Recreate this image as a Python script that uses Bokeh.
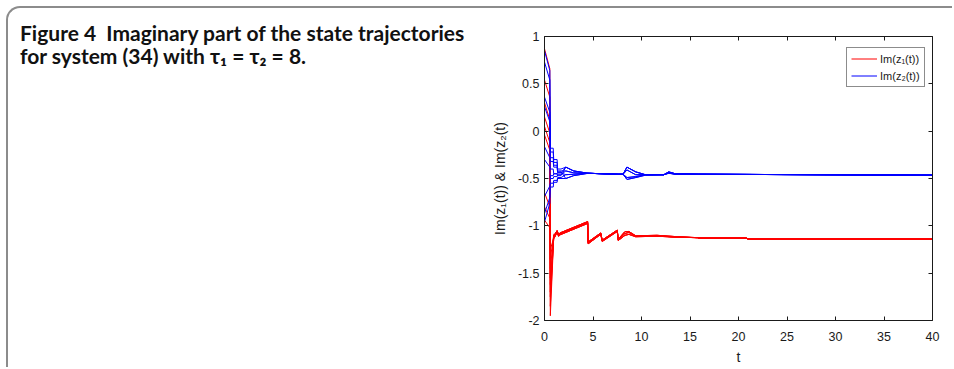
from bokeh.plotting import figure
from bokeh.layouts import row
from bokeh.models import Legend, LegendItem, LinearAxis, FixedTicker, Range1d, Div
from bokeh.embed import file_html
from bokeh.resources import INLINE

# ---------------- data ----------------
x_ticks = [0, 5, 10, 15, 20, 25, 30, 35, 40]
y_ticks = [-2, -1.5, -1, -0.5, 0, 0.5, 1]
y_tick_labels = ["-2", "-1.5", "-1", "-0.5", "0", "0.5", "1"]

# Im(z1): initial part of each trajectory
red_head_t = [0, 0.55, 0.6, 0.95]
red_heads = [
    [0.87, 0.66, -1.95, -1.12],
    [0.54, 0.36, -1.85, -1.10],
    [0.15, -0.02, -1.75, -1.13],
    [0.05, -0.12, -1.62, -1.09],
    [-0.04, -0.20, -1.55, -1.14],
    [-0.65, -0.80, -1.45, -1.11],
    [-0.80, -0.92, -1.35, -1.10],
    [-0.94, -1.02, -1.25, -1.13],
    [0.30, 0.12, -1.70, -1.12],
]
# Im(z1): common later part (three slightly different copies)
red_tail_t = [1.05, 1.3, 1.45, 1.6, 4.45, 4.5, 5.8, 5.95, 7.5, 7.6, 8.3, 8.7,
              9.4, 11.6, 13.7, 15.8, 16.0, 20.8, 21.0, 40]
red_tails = [
    [-1.10, -1.06, -1.10, -1.085, -0.965, -1.18, -1.08, -1.16, -1.05, -1.15, -1.08, -1.07,
     -1.11, -1.105, -1.12, -1.125, -1.13, -1.13, -1.14, -1.14],
    [-1.12, -1.07, -1.11, -1.095, -0.975, -1.19, -1.09, -1.165, -1.06, -1.155, -1.10, -1.09,
     -1.115, -1.11, -1.12, -1.125, -1.13, -1.13, -1.14, -1.14],
    [-1.09, -1.05, -1.09, -1.075, -0.955, -1.17, -1.075, -1.15, -1.045, -1.14, -1.06, -1.06,
     -1.105, -1.10, -1.115, -1.125, -1.13, -1.13, -1.14, -1.14],
]

# Im(z2): initial part of each trajectory
blue_head_t = [0, 0.55, 0.6, 0.9, 0.95, 1.3, 1.35, 1.7]
blue_heads = [
    [0.85, 0.64, -0.18, -0.18, -0.30, -0.30, -0.40, -0.40],
    [0.73, 0.54, -0.22, -0.22, -0.33, -0.33, -0.42, -0.42],
    [0.36, 0.20, -0.28, -0.28, -0.36, -0.36, -0.44, -0.44],
    [0.26, 0.10, -0.32, -0.32, -0.38, -0.38, -0.43, -0.43],
    [-0.165, -0.28, -0.40, -0.40, -0.45, -0.45, -0.47, -0.47],
    [-0.30, -0.38, -0.50, -0.50, -0.48, -0.48, -0.46, -0.46],
    [-0.69, -0.58, -0.55, -0.55, -0.52, -0.52, -0.49, -0.49],
    [-0.87, -0.70, -0.59, -0.59, -0.54, -0.54, -0.50, -0.50],
    [-0.96, -0.76, -0.47, -0.47, -0.45, -0.45, -0.44, -0.44],
]
# Im(z2): later part (four slightly different copies)
blue_tail_t = [2.2, 3.0, 4.5, 7.6, 8.1, 8.5, 9.4, 10.4, 12.3, 12.8, 13.5, 15.9, 40]
blue_tails = [
    [-0.38, -0.42, -0.445, -0.455, -0.455, -0.38, -0.43, -0.46, -0.46, -0.43, -0.45, -0.455, -0.465],
    [-0.42, -0.44, -0.445, -0.455, -0.455, -0.41, -0.46, -0.46, -0.46, -0.44, -0.45, -0.455, -0.465],
    [-0.46, -0.455, -0.445, -0.455, -0.455, -0.49, -0.48, -0.46, -0.46, -0.44, -0.455, -0.455, -0.465],
    [-0.50, -0.47, -0.445, -0.455, -0.455, -0.51, -0.49, -0.465, -0.46, -0.445, -0.455, -0.455, -0.465],
]

caption_lines = ["Figure 4&nbsp; Imaginary part of the state trajectories",
                 "for system (34) with \u03c4\u2081 = \u03c4\u2082 = 8."]
y_label = "Im(z\u2081(t)) & Im(z\u2082(t)"
x_label = "t"
legend_labels = ["Im(z\u2081(t))", "Im(z\u2082(t))"]

RED = "#ff0000"
BLUE = "#0000ff"
INK = "#1a1a1a"
AX_FONT = "Liberation Sans"

CAP_W = 480
PLOT_W = 464
H = 359

# ---------------- caption panel ----------------
cap_html = ("<div style=\"font-family: Lato, 'Open Sans', sans-serif; font-weight: bold; "
            "font-size: 21px; line-height: 23px; color: #111111; white-space: nowrap; "
            "padding-left: 12px; padding-top: 13px; margin: 0;\">"
            + "<br>".join(caption_lines) + "</div>")
cap = Div(text=cap_html, width=CAP_W, height=H, styles={"margin": "0", "padding": "0"})

# ---------------- chart ----------------
p = figure(width=PLOT_W, height=H, x_range=Range1d(0, 40), y_range=Range1d(-2, 1),
           output_backend="svg", toolbar_location=None,
           min_border_left=56, min_border_right=PLOT_W - 56 - 388,
           min_border_top=28, min_border_bottom=H - 313)
p.grid.visible = False
p.outline_line_color = None

red_renderers = []
for i, head in enumerate(red_heads):
    tail = red_tails[i % len(red_tails)]
    r = p.line(red_head_t + red_tail_t, head + tail, line_color=RED, line_width=1)
    red_renderers.append(r)

blue_renderers = []
for i, head in enumerate(blue_heads):
    tail = blue_tails[i % len(blue_tails)]
    r = p.line(blue_head_t + blue_tail_t, head + tail, line_color=BLUE, line_width=1)
    blue_renderers.append(r)


def style_axis(ax, ticks, labels=None, show=True):
    ax.ticker = FixedTicker(ticks=ticks)
    ax.axis_line_color = INK
    ax.axis_line_width = 1
    ax.major_tick_line_color = INK
    ax.major_tick_in = 4
    ax.major_tick_out = 0
    ax.minor_tick_line_color = None
    ax.major_label_text_font = AX_FONT
    ax.major_label_text_font_size = "12.5px"
    ax.major_label_text_color = INK
    if labels is not None:
        ax.major_label_overrides = {t: l for t, l in zip(ticks, labels)}
    if not show:
        ax.major_label_overrides = {t: "" for t in ticks}
        ax.major_label_standoff = 0


style_axis(p.xaxis[0], x_ticks, [str(v) for v in x_ticks])
p.xaxis[0].major_label_standoff = 11
p.xaxis[0].axis_label = x_label
p.xaxis[0].axis_label_text_font = AX_FONT
p.xaxis[0].axis_label_text_font_size = "14px"
p.xaxis[0].axis_label_text_font_style = "normal"
p.xaxis[0].axis_label_text_color = INK
p.xaxis[0].axis_label_standoff = 5

style_axis(p.yaxis[0], y_ticks, y_tick_labels)
p.yaxis[0].major_label_standoff = 5
p.yaxis[0].axis_label = y_label
p.yaxis[0].axis_label_text_font = AX_FONT
p.yaxis[0].axis_label_text_font_size = "14px"
p.yaxis[0].axis_label_text_font_style = "normal"
p.yaxis[0].axis_label_text_color = INK
p.yaxis[0].axis_label_standoff = 7

top_ax = LinearAxis()
style_axis(top_ax, x_ticks, show=False)
p.add_layout(top_ax, "above")
right_ax = LinearAxis()
style_axis(right_ax, y_ticks, show=False)
p.add_layout(right_ax, "right")

legend = Legend(items=[LegendItem(label=legend_labels[0], renderers=[red_renderers[0]]),
                       LegendItem(label=legend_labels[1], renderers=[blue_renderers[0]])],
                location=(302, 233))
legend.border_line_color = INK
legend.border_line_width = 1
legend.background_fill_color = "white"
legend.label_text_font = AX_FONT
legend.label_text_font_size = "11px"
legend.label_text_color = INK
legend.glyph_width = 26
legend.glyph_height = 13
legend.label_height = 13
legend.label_standoff = 3
legend.padding = 4
legend.spacing = 4
legend.margin = 0
p.add_layout(legend)

page = row(cap, p, spacing=0,
           styles={"border-left": "2px solid #8c8c8c", "border-top": "2px solid #8c8c8c",
                   "border-top-left-radius": "14px", "margin-left": "6px", "margin-top": "6px"})

open("out.html", "w").write(file_html(page, INLINE))
